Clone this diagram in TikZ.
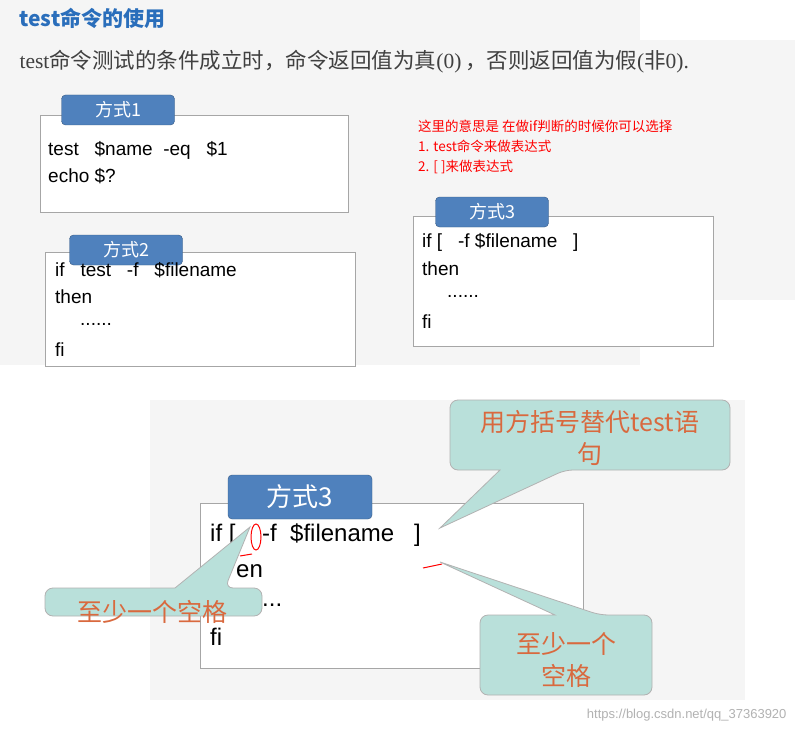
\documentclass[tikz,border=0pt]{standalone}
\usepackage{fontspec}
\setmainfont{Liberation Serif}
\setsansfont{Liberation Sans}
\newfontfamily\cjk{Noto Sans CJK SC}
\usetikzlibrary{positioning}
\definecolor{tabblue}{HTML}{4F81BD}
\definecolor{calloutfill}{HTML}{B9E0DA}
\definecolor{calloutink}{HTML}{D9693E}
\definecolor{titleblue}{HTML}{2A6EBB}
\tikzset{
  codebox/.style={draw=gray!70,fill=white,line width=0.8pt},
  tab/.style={draw=tabblue!70!black,fill=tabblue,rounded corners=4pt,text=white,font=\cjk\fontsize{18}{18}\selectfont,minimum width=113pt,minimum height=30pt,inner sep=0pt},
  codeline/.style={anchor=west,font=\sffamily\fontsize{19}{19}\selectfont,inner sep=0pt},
  bigline/.style={codeline,font=\sffamily\fontsize{24}{24}\selectfont},
  callout/.style={draw=gray!60,fill=calloutfill,rounded corners=8pt,line width=0.8pt},
  callouttext/.style={text=calloutink,font=\cjk\fontsize{25}{32}\selectfont,align=center,inner sep=0pt}
}
\begin{document}
\begin{tikzpicture}[x=1pt,y=-1pt]
    \useasboundingbox (0,0) rectangle (795,733);
    \fill[white] (0,0) rectangle (795,733);
    \fill[gray!8] (0,0) rectangle (640,365);
    \fill[gray!8] (0,40) rectangle (795,300);
    \fill[gray!8] (150,400) rectangle (745,700);

    \node[anchor=west,text=titleblue,font=\cjk\bfseries\fontsize{21}{21}\selectfont] (title) at (16,18) {test命令的使用};
    \node[anchor=west,text=black!75,font=\fontsize{21.5}{21.5}\selectfont] (intro) at (16,62)
        {test{\cjk 命令测试的条件成立时，命令返回值为真}(0)\,{\cjk ，否则返回值为假}({\cjk 非}0).};

    % way 1
    \draw[codebox] (40,115) rectangle (348,212);
    \node[tab] (tab1) at (118,110) {方式1};
    \node[codeline] (l11) at (48,150) {test\ \ \ \$name\ \ -eq\ \ \ \$1};
    \node[codeline] (l12) at (48,176) {echo \$?};

    % way 2
    \draw[codebox] (45,252) rectangle (355,366);
    \node[tab] (tab2) at (126,250) {方式2};
    \node[codeline] (l21) at (55,270) {if\ \ \ test\ \ \ -f\ \ \ \$filename};
    \node[codeline] (l22) at (55,297) {then};
    \node[codeline] (l23) at (80,324) {......};
    \node[codeline] (l24) at (55,350) {fi};

    % note
    \node[anchor=north west,text=red,font=\cjk\fontsize{13.5}{20}\selectfont,align=left,inner sep=0pt] (note) at (418,120)
        {这里的意思是 在做if判断的时候你可以选择\\1. test命令来做表达式\\2. [ ]来做表达式};

    % way 3
    \draw[codebox] (413,216) rectangle (713,346);
    \node[tab] (tab3) at (492,212) {方式3};
    \node[codeline] (l31) at (422,242) {if [\ \ \ -f \$filename\ \ \ ]};
    \node[codeline] (l32) at (422,269) {then};
    \node[codeline] (l33) at (447,296) {......};
    \node[codeline] (l34) at (422,322) {fi};

    % zoomed way 3
    \draw[codebox,fill=white] (200,503) rectangle (583,668);
    \node[bigline] (b1) at (210,535) {if [\ \ \ \ -f\ \ \$filename\ \ \ ]};
    \node[bigline] (b2) at (236,571) {en};
    \node[bigline] (b3) at (262,605) {...};
    \node[bigline] (b4) at (210,637) {fi};
    \node[tab,minimum width=144pt,minimum height=44pt,font=\cjk\fontsize{26}{26}\selectfont] (tab4) at (300,497) {方式3};
    \draw[red,line width=1pt] (256,537) ellipse (5pt and 13pt);
    \draw[red,line width=1pt] (240,556) -- (252,554);
    \draw[red,line width=1pt] (423,568) -- (442,564);

    \coordinate (tipA) at (440,528);
    \coordinate (tipB) at (250,527);
    \coordinate (tipC) at (440,562);
    \draw[callout] (500,470) [rounded corners=8pt] -- (450,470) -- (450,400) -- (730,400) -- (730,470) -- (565,470) [sharp corners] -- (tipA) -- cycle;
    \node[callouttext,text width=250pt] (c1) at (590,438) {用方括号替代test语\\句};
    \draw[callout] (175,588) [rounded corners=8pt] -- (45,588) -- (45,616) -- (262,616) -- (262,588) -- (225,588) [sharp corners] -- (tipB) -- cycle;
    \node[callouttext] (c2) at (152,612) {至少一个空格};
    \draw[callout] (555,615) [rounded corners=8pt] -- (480,615) -- (480,695) -- (652,695) -- (652,615) -- (600,615) [sharp corners] -- (tipC) -- cycle;
    \node[callouttext] (c3) at (566,660) {至少一个\\空格};

    \node[anchor=east,text=gray!60,font=\sffamily\fontsize{13}{13}\selectfont] (mark) at (790,715) {https://blog.csdn.net/qq\_37363920};
\end{tikzpicture}
\end{document}
